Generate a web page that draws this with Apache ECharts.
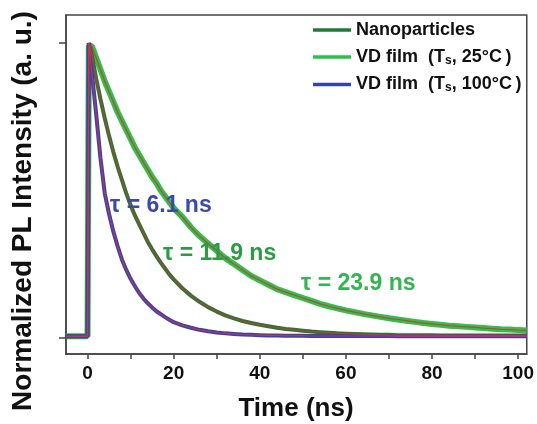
<!DOCTYPE html>
<html>
<head>
<meta charset="utf-8">
<script src="https://cdn.jsdelivr.net/npm/echarts@6/dist/echarts.min.js"></script>
<style>
  html, body { margin: 0; padding: 0; background: #fff; }
  #main { width: 537px; height: 424px; }
</style>
</head>
<body>
<div id="main"></div>
<script>
// time axis (ns), shared by the three decays
var timeNs = [-5, -1, 0, 0.3,
  1, 2, 3, 4, 5, 6, 7, 8, 9, 10, 11, 12, 13, 14, 15, 16, 17, 18, 19, 20,
  22, 24, 26, 28, 30, 32, 34, 36, 38, 40, 42, 44, 46, 48, 50, 52, 54, 56, 58, 60,
  62, 64, 66, 68, 70, 72, 74, 76, 78, 80, 82, 84, 86, 88, 90, 92, 94, 96, 98, 100, 102];

// VD film (Ts, 25C)  tau = 23.9 ns
var film25 = [0.005, 0.005, 0.005, 0.99,
  0.99, 0.95, 0.91, 0.87, 0.835, 0.80, 0.765, 0.735, 0.705, 0.675, 0.645, 0.62, 0.595, 0.57, 0.545, 0.525, 0.50, 0.48, 0.46, 0.44,
  0.41, 0.375, 0.345, 0.32, 0.295, 0.27, 0.25, 0.23, 0.21, 0.195, 0.18, 0.165, 0.155, 0.145, 0.135, 0.125, 0.115, 0.107, 0.10, 0.093,
  0.087, 0.081, 0.076, 0.071, 0.066, 0.062, 0.058, 0.054, 0.05, 0.047, 0.044, 0.041, 0.039, 0.037, 0.035, 0.033, 0.031, 0.029, 0.028, 0.026, 0.025];

// Nanoparticles  tau = 11.9 ns
var nano = [0.005, 0.005, 0.005, 1.0,
  0.96, 0.88, 0.81, 0.745, 0.685, 0.63, 0.58, 0.535, 0.49, 0.45, 0.415, 0.385, 0.355, 0.325, 0.30, 0.277, 0.255, 0.235, 0.215, 0.198,
  0.168, 0.143, 0.122, 0.104, 0.089, 0.076, 0.066, 0.057, 0.05, 0.044, 0.039, 0.034, 0.03, 0.027, 0.024, 0.021, 0.019, 0.017, 0.015, 0.014,
  0.013, 0.012, 0.011, 0.01, 0.01, 0.009, 0.009, 0.009, 0.009, 0.009, 0.008, 0.008, 0.008, 0.008, 0.008, 0.008, 0.008, 0.008, 0.008, 0.008, 0.008];

// VD film (Ts, 100C)  tau = 6.1 ns
var film100 = [0.005, 0.005, 0.005, 1.0,
  0.90, 0.76, 0.61, 0.49, 0.42, 0.36, 0.31, 0.265, 0.23, 0.20, 0.175, 0.152, 0.133, 0.117, 0.103, 0.09, 0.08, 0.07, 0.061, 0.053,
  0.042, 0.034, 0.027, 0.022, 0.018, 0.015, 0.013, 0.011, 0.01, 0.009, 0.008, 0.008, 0.007, 0.007, 0.007, 0.006, 0.006, 0.006, 0.006, 0.006,
  0.006, 0.006, 0.006, 0.006, 0.006, 0.005, 0.005, 0.005, 0.005, 0.005, 0.005, 0.005, 0.005, 0.005, 0.005, 0.005, 0.005, 0.005, 0.005, 0.005, 0.005];

var xTicks = [0, 10, 20, 30, 40, 50, 60, 70, 80, 90, 100];
var xLabels = [0, 20, 40, 60, 80, 100];
var yTicks = [0, 1];

var names = ['Nanoparticles', 'VD film (Ts, 25°C)', 'VD film (Ts, 100°C)'];

function pairs(vals) {
  var out = [];
  for (var i = 0; i < timeNs.length; i++) out.push([timeNs[i], vals[i]]);
  return out;
}

var font = 'Liberation Sans, Arial, sans-serif';

function dataLine(name, vals, color, w) {
  return {
    name: name, type: 'line', data: pairs(vals), symbol: 'none',
    lineStyle: { color: color, width: w }, itemStyle: { color: color }, z: 2
  };
}
function fitLine(vals) {
  return {
    type: 'line', data: pairs(vals), symbol: 'none', silent: true,
    lineStyle: { color: '#d8303c', width: 1.2, opacity: 0.85 }, z: 3
  };
}

var myChart = echarts.init(document.getElementById('main'));

var option = {
  animation: false,
  backgroundColor: '#fff',
  grid: { left: 66, top: 15, right: 10, bottom: 70, show: true, borderColor: '#444', borderWidth: 1.5 },
  xAxis: {
    type: 'value', min: -5, max: 102,
    axisLine: { onZero: false, lineStyle: { color: '#444', width: 1.5 } },
    axisTick: { customValues: xTicks, length: 5, lineStyle: { color: '#444', width: 1.5 } },
    axisLabel: { customValues: xLabels, margin: 10, color: '#111', fontSize: 19, fontWeight: 'bold', fontFamily: font },
    splitLine: { show: false }
  },
  yAxis: {
    type: 'value', min: -0.055, max: 1.095,
    axisLine: { show: true, onZero: false, lineStyle: { color: '#444', width: 1.5 } },
    axisTick: { customValues: yTicks, length: 7, lineStyle: { color: '#444', width: 1.5 } },
    axisLabel: { show: false },
    splitLine: { show: false }
  },
  legend: {
    data: names, orient: 'vertical', left: 308, top: 16,
    icon: 'rect', itemWidth: 38, itemHeight: 3.5, itemGap: 9,
    formatter: function (n) {
      // wider brackets as in the figure, subscript s
      return n.replace('Ts', 'T{s|s}').replace('(', ' (').replace(')', '\u2009)');
    },
    textStyle: {
      fontSize: 18, fontWeight: 'bold', color: '#111', fontFamily: font,
      rich: { s: { fontSize: 12, fontWeight: 'bold', color: '#111', fontFamily: font, padding: [7, 0, 0, 0] } }
    }
  },
  series: [
    dataLine(names[1], film25, '#2fbf4a', 6),
    dataLine(names[0], nano, '#1f7a34', 4),
    dataLine(names[2], film100, '#3344b0', 4),
    fitLine(film25), fitLine(nano), fitLine(film100)
  ],
  graphic: [
    { type: 'text', x: 110, y: 206, style: { text: 'τ = 6.1 ns', fill: '#3a4aa8', font: 'bold 23px ' + font, textAlign: 'left', textVerticalAlign: 'middle' }, z: 10 },
    { type: 'text', x: 163, y: 254, style: { text: 'τ = 11.9 ns', fill: '#2e9a45', font: 'bold 23px ' + font, textAlign: 'left', textVerticalAlign: 'middle' }, z: 10 },
    { type: 'text', x: 301, y: 284, style: { text: 'τ = 23.9 ns', fill: '#33b54f', font: 'bold 23px ' + font, textAlign: 'left', textVerticalAlign: 'middle' }, z: 10 },
    { type: 'text', x: 23, y: 211, rotation: Math.PI / 2, style: { text: 'Normalized PL Intensity (a. u.)', fill: '#111', font: 'bold 28px ' + font, textAlign: 'center', textVerticalAlign: 'middle' } },
    { type: 'text', x: 296, y: 409, style: { text: 'Time (ns)', fill: '#111', font: 'bold 26px ' + font, textAlign: 'center', textVerticalAlign: 'middle' } }
  ]
};
option && myChart.setOption(option);
</script>
</body>
</html>
